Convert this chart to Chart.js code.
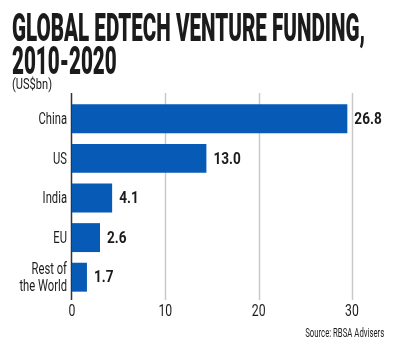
<!DOCTYPE html>
<html>
<head>
<meta charset="utf-8">
<script src="https://cdn.jsdelivr.net/npm/chart.js@4.4.1/dist/chart.umd.min.js"></script>
<style>
    html, body { margin: 0; padding: 0; background: #fff; }
    #wrap { position: relative; width: 400px; height: 351px; overflow: hidden; }
    #chart { position: absolute; left: 0; top: 0; }
    .txt {
        position: absolute;
        white-space: nowrap;
        color: #1b1b1b;
        font-family: Roboto, "Liberation Sans", sans-serif;
        transform-origin: left top;
    }
    #title { left: 12px; top: 12px; font-size: 38px; line-height: 33px; font-weight: 900; }
    #subtitle { left: 12px; top: 76px; font-size: 15px; line-height: 16px; }
    #source { top: 326px; font-size: 13px; line-height: 14px; transform-origin: right top; }
</style>
</head>
<body>
<div id="wrap">
    <canvas id="chart" width="400" height="351"></canvas>
    <div class="txt" id="title"><span id="t1">GLOBAL EDTECH VENTURE FUNDING,</span><br>2010-2020</div>
    <div class="txt" id="subtitle">(US$bn)</div>
    <div class="txt" id="source">Source: RBSA Advisers</div>
</div>
<script>
const categories = ["China", "US", "India", "EU", ["Rest of", "the World"]];
// bar lengths as drawn in the picture
const barValues = [29.5, 14.4, 4.3, 3.0, 1.6];
// printed labels next to the bars
const valueLabels = ["26.8", "13.0", "4.1", "2.6", "1.7"];
const xTicks = [0, 10, 20, 30];

const BLUE = "#075ab6";
const INK = "#1b1b1b";
const FONT = "Roboto, 'Liberation Sans', sans-serif";

// squeeze html text to the condensed width of the original
function fit(el, width, origin) {
    const w = el.getBoundingClientRect().width;
    el.style.transform = `scaleX(${width / w})`;
}
const title = document.getElementById("title");
const t1w = document.getElementById("t1").getBoundingClientRect().width;
title.style.transform = `scaleX(${353 / t1w})`;
fit(document.getElementById("subtitle"), 40);
const source = document.getElementById("source");
const sw = source.getBoundingClientRect().width;
source.style.left = (384 - sw) + "px";
source.style.transform = `scaleX(${79 / sw})`;

function condensedText(ctx, text, x, y, sx, align) {
    ctx.save();
    ctx.translate(x, y);
    ctx.scale(sx, 1);
    ctx.textAlign = align;
    ctx.fillText(text, 0, 0);
    ctx.restore();
}

const customDraw = {
    id: "customDraw",
    beforeDatasetsDraw(chart) {
        const { ctx, chartArea, scales } = chart;
        const xs = scales.x;
        ctx.save();
        ctx.strokeStyle = "#c9c9c9";
        ctx.lineWidth = 1.5;
        xTicks.forEach((t) => {
            if (t === 0) return;
            const px = Math.round(xs.getPixelForValue(t)) + 0.5;
            ctx.beginPath();
            ctx.moveTo(px, chartArea.top - 6);
            ctx.lineTo(px, chartArea.bottom + 3);
            ctx.stroke();
        });
        ctx.strokeStyle = "#333";
        ctx.lineWidth = 1.5;
        const x0 = xs.getPixelForValue(0) - 0.5;
        ctx.beginPath();
        ctx.moveTo(x0, chartArea.top - 6);
        ctx.lineTo(x0, chartArea.bottom + 3);
        ctx.stroke();
        ctx.restore();
    },
    afterDatasetsDraw(chart) {
        const { ctx, scales } = chart;
        const xs = scales.x;
        const ys = scales.y;
        const meta = chart.getDatasetMeta(0);
        ctx.save();
        ctx.fillStyle = INK;
        ctx.textBaseline = "middle";

        // category labels
        ctx.font = `17px ${FONT}`;
        categories.forEach((c, i) => {
            const y = ys.getPixelForValue(i);
            const lines = Array.isArray(c) ? c : [c];
            const lh = 17;
            lines.forEach((line, j) => {
                const ly = y + (j - (lines.length - 1) / 2) * lh;
                condensedText(ctx, line, ys.right - 5, ly + 1, 0.66, "right");
            });
        });

        // value labels
        ctx.font = `bold 17px ${FONT}`;
        meta.data.forEach((bar, i) => {
            condensedText(ctx, valueLabels[i], bar.x + 7, bar.y + 1, 0.8, "left");
        });

        // x tick labels
        ctx.font = `17px ${FONT}`;
        xTicks.forEach((t) => {
            condensedText(ctx, String(t), xs.getPixelForValue(t), chart.chartArea.bottom + 15, 0.72, "center");
        });
        ctx.restore();
    },
};

new Chart(document.getElementById("chart"), {
    type: "bar",
    data: {
        labels: categories,
        datasets: [
            {
                data: barValues,
                backgroundColor: BLUE,
                borderWidth: 0,
                barPercentage: 0.73,
                categoryPercentage: 1,
            },
        ],
    },
    options: {
        indexAxis: "y",
        responsive: false,
        animation: false,
        devicePixelRatio: 1,
        layout: { padding: { top: 99, right: 48, left: 0, bottom: 0 } },
        plugins: {
            legend: { display: false },
            tooltip: { enabled: false },
        },
        scales: {
            x: {
                min: 0,
                max: 30,
                ticks: { display: false, stepSize: 10 },
                grid: { display: false },
                border: { display: false },
                afterFit(scale) {
                    scale.height = 54;
                },
            },
            y: {
                ticks: { display: false },
                grid: { display: false },
                border: { display: false },
                afterFit(scale) {
                    scale.width = 72;
                },
            },
        },
    },
    plugins: [customDraw],
});
</script>
</body>
</html>
